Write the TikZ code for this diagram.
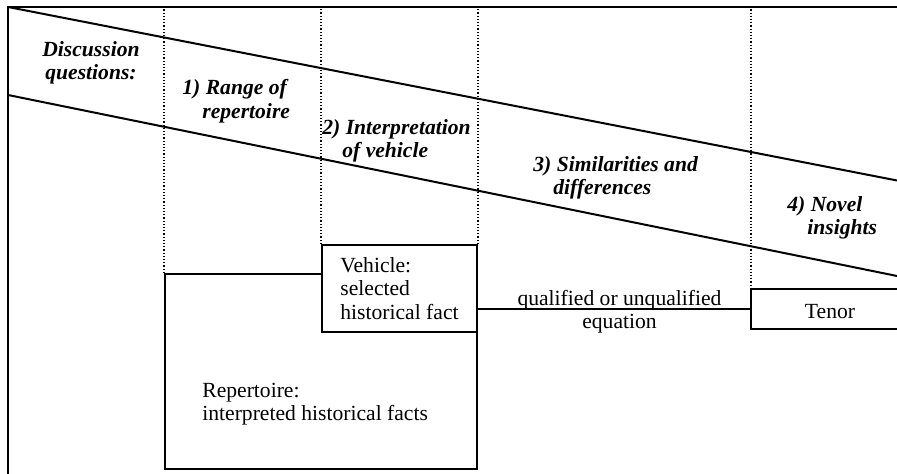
\documentclass[tikz,border=0pt]{standalone}
\usepackage{fontspec}
\setmainfont{Liberation Serif}
\usetikzlibrary{positioning,calc}

\newcommand{\hang}{\hspace*{10pt}}

\begin{document}
\begin{tikzpicture}[x=0.5pt, y=-0.5pt,
        boxnode/.style={rectangle, draw=black, line width=1pt, fill=white, inner sep=0pt},
        headnode/.style={align=left, anchor=west, inner sep=0pt, font=\fontsize{10.8}{11.75}\selectfont\bfseries\itshape},
        textnode/.style={inner sep=0pt, font=\fontsize{10.8}{11.75}\selectfont},
        dotline/.style={densely dotted, line width=0.6pt},
        solidline/.style={line width=1pt}
    ]
    \useasboundingbox (0,0) rectangle (897,474);

    % Frame and diagonals
    \coordinate (tl) at (8,7);
    \draw[solidline] (8,474) -- (tl) -- (897,7);
    \draw[solidline] (tl) -- (897,180.5);
    \draw[solidline] (8,95) -- (897,276);

    % Nodes
    \node[boxnode, minimum width=156pt, minimum height=97.5pt] (rep) at (321,371.5) {};
    \node[boxnode, textnode, align=left, minimum width=77.5pt, minimum height=43.5pt] (veh) at (399.5,288.5) {Vehicle:\\selected\\historical fact};
    \node[textnode, align=left, anchor=west] (reptext) at (202,404) {Repertoire:\\interpreted historical facts};

    \node[textnode] (tenor) at (830,312) {Tenor};
    \coordinate (tenornw) at (751,289);
    \coordinate (tenorw) at (751,309);

    \node[headnode, align=center, anchor=center] (disc) at (91,63) {Discussion\\questions:};
    \node[headnode] (q1) at (182,101) {1) Range of\\\hang repertoire};
    \node[headnode] (q2) at (322,141) {2) Interpretation\\\hang of vehicle};
    \node[headnode] (q3) at (533,178) {3) Similarities and\\\hang differences};
    \node[headnode] (q4) at (787,218) {4) Novel\\\hang insights};

    % Edges
    \draw[solidline] (897,289) -| (751,329) -- (897,329);
    \draw[solidline] (veh.east |- tenorw) -- (tenorw)
        node[midway, textnode, align=center, xshift=2.5pt, yshift=-1.4pt] {qualified or unqualified\\equation};

    \draw[dotline] (rep.north west) -- (rep.north west |- tl);
    \draw[dotline] (veh.north west) -- (veh.north west |- tl);
    \draw[dotline] (veh.north east) -- (veh.north east |- tl);
    \draw[dotline] (tenornw) -- (tenornw |- tl);
\end{tikzpicture}
\end{document}
